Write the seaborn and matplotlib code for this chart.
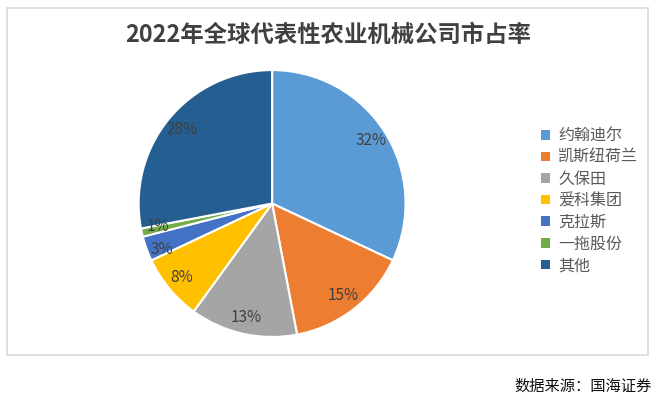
import matplotlib
matplotlib.use("Agg")
import matplotlib.pyplot as plt
import seaborn as sns
from matplotlib.patches import Rectangle, Patch

# data
companies = ['约翰迪尔', '凯斯纽荷兰', '久保田', '爱科集团', '克拉斯', '一拖股份', '其他']
shares = [32, 15, 13, 8, 3, 1, 28]
colors = ['#5B9BD5', '#ED7D31', '#A5A5A5', '#FFC000', '#4472C4', '#70AD47', '#255E91']
title = '2022年全球代表性农业机械公司市占率'
source = '数据来源：国海证券'

sns.set_theme(style='white')
plt.rcParams['font.family'] = ['Noto Sans CJK SC', 'DejaVu Sans']

fig = plt.figure(figsize=(6.6, 4.05), dpi=100)
fig.patch.set_facecolor('white')

# chart border
fig.patches.append(Rectangle((7 / 660, 1 - 355 / 405), 641 / 660, 347 / 405,
                             transform=fig.transFigure, fill=False,
                             edgecolor='#D9D9D9', linewidth=1.2))

ax = fig.add_axes([0.210, 0.168, 0.4045, 0.659])
wedges, texts, autotexts = ax.pie(
    shares, colors=colors, startangle=90, counterclock=False,
    autopct='%1.0f%%', pctdistance=0.875,
    wedgeprops=dict(edgecolor='white', linewidth=1.5),
    textprops=dict(color='#404040', fontsize=11))
ax.set_xlim(-1, 1)
ax.set_ylim(-1, 1)
ax.set_aspect('equal')

# small slices: spread the two labels a little like the original
x, y = autotexts[5].get_position()
autotexts[5].set_position((x, y + 0.02))
x, y = autotexts[4].get_position()
autotexts[4].set_position((x, y - 0.05))

fig.text(328 / 660, 1 - 35 / 405, title, ha='center', va='center',
         fontsize=16.8, fontweight='bold', color='#404040')

handles = [Patch(facecolor=c, edgecolor='none') for c in colors]
fig.legend(handles, companies, loc='upper left', bbox_to_anchor=(527 / 660, 1 - 113 / 405),
           frameon=False, fontsize=11.5, handlelength=0.55, handleheight=0.55,
           handletextpad=0.5, labelspacing=0.29, labelcolor='#595959')

fig.text(652 / 660, 1 - 386 / 405, source, ha='right', va='center',
         fontsize=11, color='#111111')

fig.savefig('out.png', dpi=100)
